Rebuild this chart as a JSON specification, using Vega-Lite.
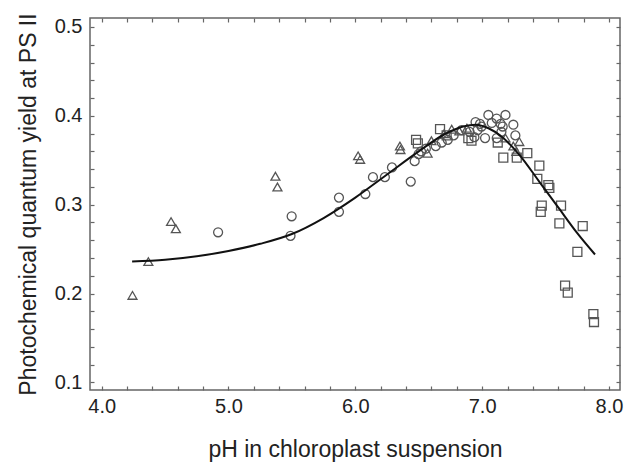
{
  "$schema": "https://vega.github.io/schema/vega-lite/v6.json",
  "width": 530,
  "height": 372,
  "autosize": {"type": "none"},
  "padding": {"left": 90, "top": 18, "right": 4, "bottom": 73},
  "background": "white",
  "config": {
    "view": {"stroke": "#666666", "strokeWidth": 1.5},
    "axis": {
      "grid": false,
      "domain": false,
      "tickColor": "#666666",
      "tickWidth": 1.2,
      "labelFont": "Liberation Sans",
      "labelFontSize": 20,
      "labelColor": "#222222",
      "titleFont": "Liberation Sans",
      "titleFontSize": 23,
      "titleFontWeight": "normal",
      "titleColor": "#222222",
      "labelFlush": false,
      "labelOverlap": false
    }
  },
  "datasets": {
    "pts": [
      {"s": "tri", "x": 4.243, "y": 0.198},
      {"s": "tri", "x": 4.368, "y": 0.236},
      {"s": "tri", "x": 4.547, "y": 0.281},
      {"s": "tri", "x": 4.585, "y": 0.273},
      {"s": "tri", "x": 5.370, "y": 0.332},
      {"s": "tri", "x": 5.386, "y": 0.320},
      {"s": "tri", "x": 6.022, "y": 0.355},
      {"s": "tri", "x": 6.038, "y": 0.351},
      {"s": "tri", "x": 6.352, "y": 0.366},
      {"s": "tri", "x": 6.356, "y": 0.362},
      {"s": "tri", "x": 6.570, "y": 0.358},
      {"s": "tri", "x": 6.600, "y": 0.372},
      {"s": "tri", "x": 6.700, "y": 0.380},
      {"s": "tri", "x": 6.760, "y": 0.385},
      {"s": "tri", "x": 6.820, "y": 0.383},
      {"s": "tri", "x": 6.880, "y": 0.386},
      {"s": "tri", "x": 7.184, "y": 0.375},
      {"s": "tri", "x": 7.246, "y": 0.366},
      {"s": "tri", "x": 7.293, "y": 0.371},
      {"s": "tri", "x": 7.270, "y": 0.360},
      {"s": "circ", "x": 4.918, "y": 0.269},
      {"s": "circ", "x": 5.498, "y": 0.287},
      {"s": "circ", "x": 5.489, "y": 0.265},
      {"s": "circ", "x": 5.871, "y": 0.308},
      {"s": "circ", "x": 5.871, "y": 0.292},
      {"s": "circ", "x": 6.079, "y": 0.312},
      {"s": "circ", "x": 6.139, "y": 0.331},
      {"s": "circ", "x": 6.233, "y": 0.331},
      {"s": "circ", "x": 6.289, "y": 0.342},
      {"s": "circ", "x": 6.437, "y": 0.326},
      {"s": "circ", "x": 6.468, "y": 0.349},
      {"s": "circ", "x": 6.499, "y": 0.357},
      {"s": "circ", "x": 6.518, "y": 0.360},
      {"s": "circ", "x": 6.556, "y": 0.363},
      {"s": "circ", "x": 6.634, "y": 0.366},
      {"s": "circ", "x": 6.681, "y": 0.370},
      {"s": "circ", "x": 6.729, "y": 0.373},
      {"s": "circ", "x": 6.775, "y": 0.378},
      {"s": "circ", "x": 6.838, "y": 0.384},
      {"s": "circ", "x": 6.901, "y": 0.382},
      {"s": "circ", "x": 6.948, "y": 0.393},
      {"s": "circ", "x": 6.964, "y": 0.384},
      {"s": "circ", "x": 6.983, "y": 0.391},
      {"s": "circ", "x": 6.995, "y": 0.388},
      {"s": "circ", "x": 7.023, "y": 0.375},
      {"s": "circ", "x": 7.049, "y": 0.401},
      {"s": "circ", "x": 7.076, "y": 0.392},
      {"s": "circ", "x": 7.114, "y": 0.397},
      {"s": "circ", "x": 7.115, "y": 0.375},
      {"s": "circ", "x": 7.146, "y": 0.391},
      {"s": "circ", "x": 7.162, "y": 0.388},
      {"s": "circ", "x": 7.184, "y": 0.401},
      {"s": "circ", "x": 7.246, "y": 0.390},
      {"s": "circ", "x": 7.262, "y": 0.378},
      {"s": "circ", "x": 7.152, "y": 0.382},
      {"s": "circ", "x": 6.939, "y": 0.376},
      {"s": "sq", "x": 6.479, "y": 0.373},
      {"s": "sq", "x": 6.493, "y": 0.369},
      {"s": "sq", "x": 6.668, "y": 0.385},
      {"s": "sq", "x": 6.720, "y": 0.378},
      {"s": "sq", "x": 6.891, "y": 0.375},
      {"s": "sq", "x": 6.916, "y": 0.372},
      {"s": "sq", "x": 7.123, "y": 0.370},
      {"s": "sq", "x": 7.167, "y": 0.353},
      {"s": "sq", "x": 7.273, "y": 0.353},
      {"s": "sq", "x": 7.356, "y": 0.358},
      {"s": "sq", "x": 7.451, "y": 0.344},
      {"s": "sq", "x": 7.435, "y": 0.329},
      {"s": "sq", "x": 7.522, "y": 0.322},
      {"s": "sq", "x": 7.530, "y": 0.319},
      {"s": "sq", "x": 7.470, "y": 0.299},
      {"s": "sq", "x": 7.462, "y": 0.292},
      {"s": "sq", "x": 7.622, "y": 0.299},
      {"s": "sq", "x": 7.609, "y": 0.279},
      {"s": "sq", "x": 7.793, "y": 0.276},
      {"s": "sq", "x": 7.751, "y": 0.247},
      {"s": "sq", "x": 7.654, "y": 0.209},
      {"s": "sq", "x": 7.675, "y": 0.201},
      {"s": "sq", "x": 7.877, "y": 0.177},
      {"s": "sq", "x": 7.882, "y": 0.168}
    ],
    "curve": [
      {"x": 4.24, "y": 0.236},
      {"x": 4.5, "y": 0.238},
      {"x": 4.75, "y": 0.242},
      {"x": 5.0, "y": 0.248},
      {"x": 5.25, "y": 0.256},
      {"x": 5.5, "y": 0.267},
      {"x": 5.75, "y": 0.285},
      {"x": 6.0, "y": 0.308},
      {"x": 6.25, "y": 0.334},
      {"x": 6.5, "y": 0.360},
      {"x": 6.7, "y": 0.379},
      {"x": 6.85, "y": 0.388},
      {"x": 6.95, "y": 0.390},
      {"x": 7.05, "y": 0.386},
      {"x": 7.15, "y": 0.377},
      {"x": 7.3, "y": 0.355},
      {"x": 7.45, "y": 0.326},
      {"x": 7.6, "y": 0.297},
      {"x": 7.75, "y": 0.268},
      {"x": 7.89, "y": 0.244}
    ]
  },
  "layer": [
    {
      "data": {"name": "pts"},
      "mark": {"type": "point", "filled": false, "strokeWidth": 1.3, "color": "#555555", "size": 80, "opacity": 1},
      "encoding": {
        "x": {
          "field": "x", "type": "quantitative",
          "scale": {"domain": [3.908, 8.087], "nice": false, "zero": false},
          "axis": {
            "orient": "bottom",
            "title": "pH in chloroplast suspension",
            "values": [4.0, 4.2, 4.4, 4.6, 4.8, 5.0, 5.2, 5.4, 5.6, 5.8, 6.0, 6.2, 6.4, 6.6, 6.8, 7.0, 7.2, 7.4, 7.6, 7.8, 8.0],
            "labelExpr": "abs(datum.value - round(datum.value)) < 0.001 ? format(datum.value, '.1f') : ''",
            "tickSize": -4,
            "labelPadding": 10,
            "titlePadding": 22
          }
        },
        "y": {
          "field": "y", "type": "quantitative",
          "scale": {"domain": [0.0915, 0.5101], "nice": false, "zero": false},
          "axis": {
            "orient": "left",
            "title": "Photochemical quantum yield at PS II",
            "values": [0.1, 0.12, 0.14, 0.16, 0.18, 0.2, 0.22, 0.24, 0.26, 0.28, 0.3, 0.32, 0.34, 0.36, 0.38, 0.4, 0.42, 0.44, 0.46, 0.48, 0.5],
            "labelExpr": "abs(datum.value*10 - round(datum.value*10)) < 0.001 ? format(datum.value, '.1f') : ''",
            "tickSize": -4,
            "labelPadding": 12,
            "titlePadding": 14
          }
        },
        "shape": {
          "field": "s", "type": "nominal",
          "scale": {"domain": ["tri", "circ", "sq"], "range": ["triangle-up", "circle", "square"]},
          "legend": null
        }
      }
    },
    {
      "data": {"name": "curve"},
      "mark": {"type": "line", "color": "#111111", "strokeWidth": 2, "interpolate": "monotone"},
      "encoding": {
        "x": {
          "field": "x", "type": "quantitative",
          "scale": {"domain": [3.908, 8.087], "nice": false, "zero": false},
          "axis": {
            "orient": "top",
            "title": null,
            "labels": false,
            "values": [4.0, 4.2, 4.4, 4.6, 4.8, 5.0, 5.2, 5.4, 5.6, 5.8, 6.0, 6.2, 6.4, 6.6, 6.8, 7.0, 7.2, 7.4, 7.6, 7.8, 8.0],
            "tickSize": -4
          }
        },
        "y": {
          "field": "y", "type": "quantitative",
          "scale": {"domain": [0.0915, 0.5101], "nice": false, "zero": false},
          "axis": {
            "orient": "right",
            "title": null,
            "labels": false,
            "values": [0.1, 0.12, 0.14, 0.16, 0.18, 0.2, 0.22, 0.24, 0.26, 0.28, 0.3, 0.32, 0.34, 0.36, 0.38, 0.4, 0.42, 0.44, 0.46, 0.48, 0.5],
            "tickSize": -4
          }
        }
      }
    }
  ]
}
